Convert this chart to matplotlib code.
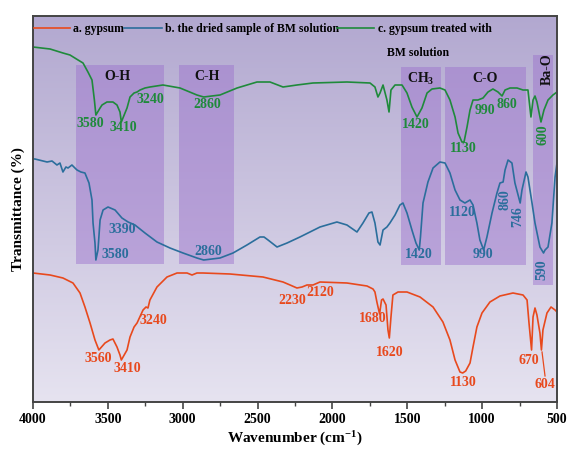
import numpy as np
import matplotlib.pyplot as plt
from matplotlib.colors import LinearSegmentedColormap
from matplotlib.patches import Rectangle

plt.rcParams['font.family'] = ['Liberation Serif', 'DejaVu Serif']
plt.rcParams['font.weight'] = 'bold'
plt.rcParams['mathtext.fontset'] = 'custom'
plt.rcParams['mathtext.rm'] = 'Liberation Serif:bold'
plt.rcParams['mathtext.bf'] = 'Liberation Serif:bold'
plt.rcParams['mathtext.it'] = 'Liberation Serif:bold'

# a. gypsum
wn_a = [4000, 3886, 3800, 3733, 3686, 3653, 3619, 3586, 3560, 3519, 3486, 3466, 3439, 3419, 3410,
        3372, 3352, 3325, 3305, 3265, 3245, 3232, 3219, 3172, 3105, 3038, 2971, 2938, 2905, 2865,
        2684, 2464, 2330, 2283, 2237, 2203, 2170, 2130, 2083, 1903, 1769, 1729, 1716, 1703, 1685,
        1672, 1662, 1642, 1629, 1620, 1609, 1596, 1562, 1502, 1415, 1328, 1262, 1215, 1181, 1148,
        1130, 1110, 1081, 1061, 1035, 1001, 948, 881, 794, 727, 700, 687, 670, 660, 647, 634, 614,
        604, 594, 567, 540, 513, 500]
t_a = [129, 127, 124, 119, 109, 95, 79, 62, 52, 59, 62, 63, 55, 47, 42,
       52, 65, 75, 79, 92, 95, 94, 102, 115, 125, 129, 129, 127, 129, 129,
       128, 125, 120, 117, 114, 115, 117, 117, 120, 119, 116, 113, 110, 100, 88,
       102, 103, 97, 72, 64, 85, 107, 110, 110, 105, 95, 80, 62, 42, 30,
       29, 31, 39, 55, 75, 89, 100, 106, 109, 107, 102, 79, 52, 85, 94, 87, 69,
       52, 72, 89, 95, 92, 90]

# b. dried sample of BM solution
wn_b = [4000, 3987, 3906, 3873, 3840, 3820, 3800, 3780, 3766, 3740, 3720, 3706, 3680, 3653, 3626,
        3606, 3599, 3586, 3580, 3566, 3552, 3532, 3499, 3452, 3406, 3365, 3319, 3252, 3172, 3085,
        2998, 2905, 2860, 2751, 2664, 2571, 2484, 2457, 2430, 2370, 2303, 2217, 2150, 2083, 1970,
        1903, 1836, 1796, 1756, 1736, 1716, 1696, 1682, 1662, 1636, 1616, 1582, 1549, 1529, 1502,
        1469, 1442, 1420, 1412, 1395, 1362, 1328, 1282, 1248, 1215, 1181, 1148, 1115, 1081, 1061,
        1035, 1015, 990, 968, 934, 901, 881, 860, 847, 827, 801, 781, 746, 734, 707, 694, 667, 647,
        614, 590, 580, 560, 534, 513, 500]
t_b = [243, 243, 240, 241, 237, 239, 230, 235, 234, 237, 234, 232, 230, 229, 219,
       202, 179, 159, 142, 152, 182, 192, 195, 192, 184, 180, 177, 169, 160, 154,
       149, 144, 142, 144, 149, 157, 165, 165, 162, 155, 159, 165, 170, 175, 180,
       177, 170, 179, 189, 190, 179, 160, 157, 172, 175, 179, 187, 197, 199, 189,
       172, 159, 152, 165, 199, 220, 234, 240, 239, 229, 212, 202, 199, 202, 197,
       179, 162, 152, 165, 189, 209, 219, 220, 232, 242, 239, 219, 199, 212, 230, 225, 199, 179,
       155, 149, 152, 155, 179, 225, 239]

# c. gypsum treated with BM solution
wn_c = [4000, 3886, 3800, 3753, 3699, 3666, 3633, 3606, 3590, 3580, 3552, 3539, 3506, 3466, 3439,
        3419, 3410, 3372, 3352, 3325, 3305, 3285, 3252, 3219, 3132, 3018, 2905, 2860, 2751, 2637,
        2504, 2417, 2330, 2237, 2130, 1903, 1749, 1716, 1696, 1682, 1662, 1636, 1622, 1609, 1582,
        1535, 1502, 1469, 1435, 1402, 1368, 1335, 1282, 1248, 1215, 1181, 1161, 1135, 1121, 1101,
        1081, 1061, 1028, 994, 961, 928, 894, 867, 847, 814, 767, 727, 694, 674, 660, 647, 634,
        607, 587, 560, 527, 500]
t_c = [355, 353, 349, 347, 342, 339, 330, 322, 302, 287, 294, 297, 300, 300, 297,
       290, 280, 294, 305, 309, 310, 312, 314, 315, 317, 314, 307, 305, 307, 314,
       320, 320, 315, 317, 319, 320, 319, 315, 305, 309, 317, 302, 290, 312, 317,
       317, 309, 295, 285, 294, 309, 313, 314, 312, 302, 285, 269, 260, 260, 275,
       292, 302, 302, 304, 310, 313, 310, 306, 312, 314, 314, 312, 312, 285, 302, 306, 300,
       280, 292, 302, 307, 310]

red = '#e8491d'
blue = '#2b6e9c'
green = '#1f8a3b'

# band boxes: label, wn_left, wn_right, bottom, top
bands = [('O-H', 3713, 3125, 138, 337),
         ('C-H', 3025, 2657, 138, 337),
         ('CH$_3$', 1542, 1275, 137, 335),
         ('C-O', 1248, 707, 137, 335),
         ('Ba-O', 660, 526, 117, 347)]
band_text = [('O-H', 3439, 325, 0), ('C-H', 2838, 325, 0), ('CH$_3$', 1409, 323, 0),
             ('C-O', 981, 323, 0), ('Ba-O', 567, 333, 90)]

peaks_a = [('3560', 3566, 44), ('3410', 3372, 33), ('3240', 3199, 81), ('2230', 2270, 102),
           ('2120', 2083, 109), ('1680', 1729, 84), ('1620', 1616, 50), ('1130', 1128, 20),
           ('670', 687, 42), ('604', 578, 17)]
peaks_b = [('3390', 3406, 172, 0), ('3580', 3452, 148, 0), ('2860', 2831, 150, 0),
           ('1420', 1422, 147, 0), ('1120', 1135, 189, 0), ('990', 994, 147, 0),
           ('860', 847, 202, 90), ('746', 761, 185, 90), ('590', 600, 132, 90)]
peaks_c = [('3580', 3619, 278, 0), ('3410', 3399, 274, 0), ('3240', 3219, 302, 0),
           ('2860', 2838, 297, 0), ('1420', 1442, 277, 0), ('1130', 1128, 253, 0),
           ('990', 981, 291, 0), ('860', 834, 297, 0), ('600', 594, 267, 90)]

fig = plt.figure(figsize=(5.7, 4.49), dpi=100)
ax = fig.add_axes([33 / 570, 47 / 449, 524 / 570, 386 / 449])
ax.set_xlim(4000, 500)
ax.set_ylim(0, 386)

cmap = LinearSegmentedColormap.from_list('bg', ['#e6e3f0', '#b2a8d0'])
grad = np.linspace(0, 1, 256)[:, None]
ax.imshow(grad, extent=[4000, 500, 0, 386], aspect='auto', cmap=cmap, origin='lower', zorder=0)

for name, w1, w2, b0, b1 in bands:
    ax.add_patch(Rectangle((w2, b0), w1 - w2, b1 - b0, facecolor='#9a6fcc', alpha=0.45,
                           edgecolor='none', zorder=1))
for s, x, y, r in band_text:
    ax.text(x, y, s, ha='center', va='center', fontsize=10, fontweight='bold', rotation=r,
            color='#111111', zorder=3)

ax.plot(wn_a, t_a, color=red, lw=1.2, zorder=2)
ax.plot(wn_b, t_b, color=blue, lw=1.2, zorder=2)
ax.plot(wn_c, t_c, color=green, lw=1.2, zorder=2)

for s, x, y in peaks_a:
    ax.text(x, y, s, ha='center', va='center', fontsize=10, fontweight='bold', color=red, zorder=3)
ax.plot([600, 580], [50, 26], color=red, lw=0.9, zorder=3)
for s, x, y, r in peaks_b:
    ax.text(x, y, s, ha='center', va='center', fontsize=10, fontweight='bold', color=blue,
            rotation=r, zorder=3)
for s, x, y, r in peaks_c:
    ax.text(x, y, s, ha='center', va='center', fontsize=10, fontweight='bold', color=green,
            rotation=r, zorder=3)

# legend drawn by hand along the top
ax.plot([3995, 3753], [374, 374], color=red, lw=1.2, zorder=3)
ax.text(3733, 373, 'a. gypsum', ha='left', va='center', fontsize=8.5, fontweight='bold', zorder=3)
ax.plot([3392, 3138], [374, 374], color=blue, lw=1.2, zorder=3)
ax.text(3118, 373, 'b. the dried sample of BM solution', ha='left', va='center', fontsize=8.5,
        fontweight='bold', zorder=3)
ax.plot([1970, 1722], [374, 374], color=green, lw=1.2, zorder=3)
ax.text(1696, 373, 'c. gypsum treated with', ha='left', va='center', fontsize=8.5,
        fontweight='bold', zorder=3)
ax.text(1636, 349, 'BM solution', ha='left', va='center', fontsize=8.5, fontweight='bold', zorder=3)

ax.set_xticks([4000, 3500, 3000, 2500, 2000, 1500, 1000, 500])
ax.set_xticks(np.arange(500, 4001, 250), minor=True)
ax.set_yticks([])
ax.tick_params(axis='x', which='major', direction='out', length=5, width=1.2, labelsize=10,
               color='#444444', pad=3)
ax.tick_params(axis='x', which='minor', direction='out', length=3, width=1.0, color='#444444')
for lab in ax.get_xticklabels():
    lab.set_fontweight('bold')
for sp in ax.spines.values():
    sp.set_color('#444444')
    sp.set_linewidth(1.4)

ax.set_xlabel('Wavenumber (cm$^{-1}$)', fontsize=11, fontweight='bold', labelpad=2.5)
ax.set_ylabel('Transmittance (%)', fontsize=11, fontweight='bold', labelpad=6)

fig.savefig('out.png', dpi=100)
